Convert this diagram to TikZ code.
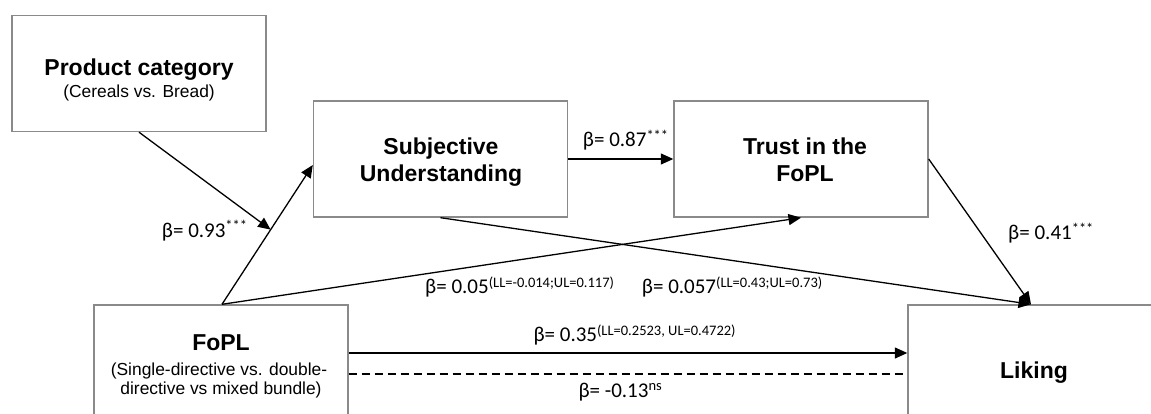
\documentclass[tikz,border=0pt]{standalone}
\usepackage{fontspec}
\setmainfont{Liberation Sans}
\newfontfamily\calib{Carlito}
\usetikzlibrary{arrows.meta,calc}
\definecolor{boxgray}{RGB}{138,138,138}
\newcommand\myup[2][6.5pt]{\raisebox{#1}{\fontsize{14.5}{14.5}\selectfont #2}}
\begin{document}
\begin{tikzpicture}[x=1pt,y=-1pt,
  box/.style={draw=boxgray, line width=1.4pt, minimum width=254pt, minimum height=116pt, inner sep=0pt},
  ttl/.style={font=\fontsize{23}{26}\selectfont\bfseries, anchor=base, inner sep=0pt},
  subt/.style={font=\fontsize{17.4}{19.5}\selectfont, anchor=base, inner sep=0pt},
  lbl/.style={font=\calib\fontsize{21}{24}\selectfont, anchor=base west, inner sep=0pt},
  conn/.style={line width=1.3pt, -{Triangle[length=12.5pt,width=11pt]}},
  dashline/.style={line width=1.3pt, dash pattern=on 8pt off 5pt}]
\useasboundingbox (0,0) rectangle (1151,414);
\clip (0,0) rectangle (1151,414);
% boxes
\node[box] (pc) at (139,73.5) {};
\node[box] (su) at (440.5,159) {};
\node[box] (tr) at (801,159) {};
\node[box] (fo) at (221,363) {};
\node[box] (li) at (1035,363) {};
% box texts
\node[ttl] (pc1) at (139,76) {Product category};
\node[subt] (pc2) at (139,97.5) {(Cereals vs. Bread)};
\node[ttl] (su1) at (441,155) {Subjective};
\node[ttl] (su2) at (441,181.7) {Understanding};
\node[ttl] (tr1) at (805,155) {Trust in the};
\node[ttl] (tr2) at (805,181.7) {FoPL};
\node[ttl] (fo1) at (221,350) {FoPL};
\node[subt] (fo2) at (219,375) {(Single-directive vs. double-};
\node[subt] (fo3) at (221,394) {directive vs mixed bundle)};
\node[ttl] (li1) at (1034,378) {Liking};
% helper coordinates
\coordinate (foTop) at ($(fo.north)+(1,0)$);
\coordinate (suIn) at ($(su.west)+(0,6)$);
\coordinate (mod) at ($(foTop)!0.536!(suIn)$);
\coordinate (liTop) at ($(li.north)+(-4,0)$);
\coordinate (foA) at ($(fo.east)+(0,-10)$);
\coordinate (liA) at ($(li.west)+(0,-10)$);
\coordinate (foB) at ($(fo.east)+(0,11)$);
\coordinate (liB) at ($(li.west)+(0,11)$);
% connectors
\draw[conn] (foTop) -- (suIn);
\draw[conn] (pc.south) -- (mod);
\draw[conn] (foTop) -- (tr.south);
\draw[conn] (su.south) -- (liTop);
\draw[conn] (tr.east) -- (liTop);
\draw[conn] (su.east) -- (tr.west);
\draw[conn] (foA) -- (liA);
\draw[dashline] (foB) -- (liB);
% labels
\node[lbl] (l1) at (161.7,237.3) {β= 0.93\myup{***}};
\node[lbl] (l2) at (582.7,146.7) {β= 0.87\myup{***}};
\node[lbl] (l3) at (1008,240) {β= 0.41\myup{***}};
\node[lbl] (l4) at (425,293.3) {β= 0.05\myup[6pt]{(LL=-0.014;UL=0.117)}};
\node[lbl] (l5) at (641.7,293.3) {β= 0.057\myup[6pt]{(LL=0.43;UL=0.73)}};
\node[lbl] (l6) at (533.3,341) {β= 0.35\myup[6pt]{(LL=0.2523, UL=0.4722)}};
\node[lbl] (l7) at (578.3,397.7) {β= -0.13\myup[7.5pt]{ns}};
\end{tikzpicture}
\end{document}
